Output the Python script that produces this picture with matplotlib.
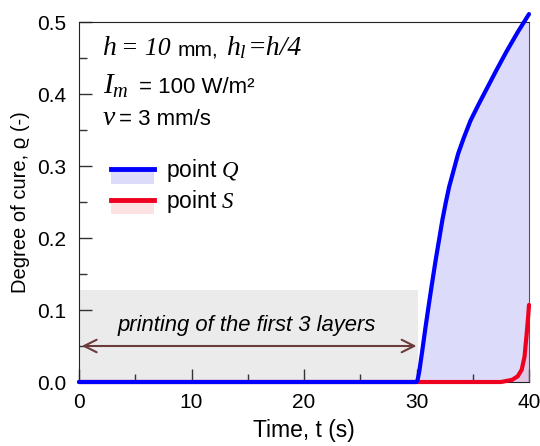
import matplotlib
matplotlib.use("Agg")
import matplotlib.pyplot as plt
from matplotlib.lines import Line2D
from matplotlib.patches import Rectangle
from matplotlib.legend_handler import HandlerTuple, HandlerPatch

plt.rcParams['font.family'] = ['Liberation Sans', 'DejaVu Sans']
plt.rcParams['mathtext.fontset'] = 'custom'
plt.rcParams['mathtext.it'] = 'Liberation Serif:italic'
plt.rcParams['mathtext.rm'] = 'Liberation Serif:italic'
plt.rcParams['mathtext.sf'] = 'Liberation Sans'

# Degree of cure at point Q (top of first layer)
t_q = [0, 30.0, 30.1, 30.25, 30.5, 30.8, 31.1, 31.4, 31.7, 32.0, 32.3, 32.6,
       32.9, 33.3, 33.7, 34.2, 34.8, 35.5, 36.2, 37.1, 38.0, 39.0, 40.0]
rho_q = [0, 0.0, 0.003, 0.015, 0.042, 0.076, 0.108, 0.139, 0.169, 0.197, 0.225, 0.249,
         0.271, 0.294, 0.317, 0.339, 0.363, 0.385, 0.406, 0.433, 0.459, 0.486, 0.511]

# Degree of cure at point S
t_s = [0, 30.0, 37.5, 38.5, 39.0, 39.35, 39.6, 39.8, 39.92, 40.0]
rho_s = [0, 0.0, 0.0, 0.003, 0.008, 0.017, 0.035, 0.068, 0.09, 0.107]

# Printing phase of the first three layers
print_start = 0
print_end = 30
print_box_top = 0.128
arrow_level = 0.05

W, H = 540, 446
fig = plt.figure(figsize=(W / 100, H / 100), dpi=100)
ax = fig.add_axes([79 / W, 64 / H, 450 / W, 360 / H])

blue = '#0000ff'
red = '#ee0020'
blue_fill = '#dcdcfa'
red_fill = '#fde2e4'

ax.add_patch(Rectangle((print_start, 0), print_end + 0.1 - print_start, print_box_top,
                       facecolor='#ebebeb', edgecolor='none', zorder=0))

ax.fill_between(t_q, rho_q, 0, color=blue_fill, lw=0, zorder=1)
ax.fill_between(t_s, rho_s, 0, color='#ff3050', alpha=0.12, lw=0, zorder=1.5)

ax.plot(t_s, rho_s, color=red, lw=3, solid_capstyle='round', zorder=3, clip_on=False)
ax.plot(t_q, rho_q, color=blue, lw=3, solid_capstyle='round', zorder=4, clip_on=False)

ax.annotate('', xy=(0.25, arrow_level), xytext=(print_end, arrow_level),
            arrowprops=dict(arrowstyle='<->,head_length=0.9,head_width=0.45',
                            color='#6b3c3c', lw=1.5, shrinkA=0, shrinkB=0),
            zorder=2)
ax.text(14.9, 0.079, 'printing of the first 3 layers', style='italic',
        fontsize=15.8, ha='center', va='center', zorder=2)

ax.set_xlim(0, 40)
ax.set_ylim(0, 0.5)
ax.set_xticks([0, 10, 20, 30, 40])
ax.set_xticks([5, 15, 25, 35], minor=True)
ax.set_yticks([0.0, 0.1, 0.2, 0.3, 0.4, 0.5])
ax.set_yticklabels(['0.0', '0.1', '0.2', '0.3', '0.4', '0.5'])
ax.set_yticks([0.05, 0.15, 0.25, 0.35, 0.45], minor=True)
ax.tick_params(which='both', direction='in', color='#333333', width=1.0,
               labelsize=15, top=False, right=False)
ax.tick_params(which='major', length=9.5)
ax.tick_params(which='minor', length=6)
ax.tick_params(axis='y', which='major', pad=9)
ax.tick_params(axis='x', which='major', pad=8)
for side in ['left', 'bottom', 'top']:
    ax.spines[side].set_color('#222222')
ax.spines['right'].set_color('#555555')

ax.set_xlabel('Time, t (s)', fontsize=16.5, labelpad=5)
ax.set_ylabel('Degree of cure, ϱ (-)', fontsize=14.5, labelpad=5)


# Process parameters, written piece by piece (symbols in serif italic)
def put(x, y, s, size, serif=False):
    kw = dict(family='Liberation Serif', style='italic') if serif else {}
    fig.text(x / W, 1 - y / H, s, fontsize=size, va='baseline', ha='left', **kw)


put(103, 55, 'h', 20, serif=True)
put(121, 55, '= 10', 18.5, serif=True)
put(178, 55, 'mm,', 15)
put(226, 55, r'$h_l$', 20)
put(248, 55, '=h/4', 20, serif=True)

put(103, 94, r'$I_m$', 21)
put(139, 93, '= 100 W/m²', 16)

put(103, 125, 'v', 20, serif=True)
put(119, 125, '= 3 mm/s', 16)


def lower_rect(legend, orig_handle, xdescent, ydescent, width, height, fontsize):
    y_mid = (height - ydescent) / 2.0
    return Rectangle((-xdescent, y_mid - 10.5), width, 10.5)


h_q = (Rectangle((0, 0), 1, 1, facecolor=blue_fill, edgecolor='none'),
       Line2D([], [], color=blue, lw=3.5))
h_s = (Rectangle((0, 0), 1, 1, facecolor=red_fill, edgecolor='none'),
       Line2D([], [], color=red, lw=3.5))
leg = ax.legend([h_q, h_s], [r'point $Q$', r'point $S$'],
                handler_map={tuple: HandlerTuple(ndivide=1, pad=0),
                             Rectangle: HandlerPatch(patch_func=lower_rect)},
                loc='upper left', bbox_to_anchor=(0.05, 0.65), frameon=False,
                fontsize=16.5, handlelength=1.9, handletextpad=0.5, labelspacing=0.15,
                borderaxespad=0)

fig.savefig('out.png', dpi=100)
